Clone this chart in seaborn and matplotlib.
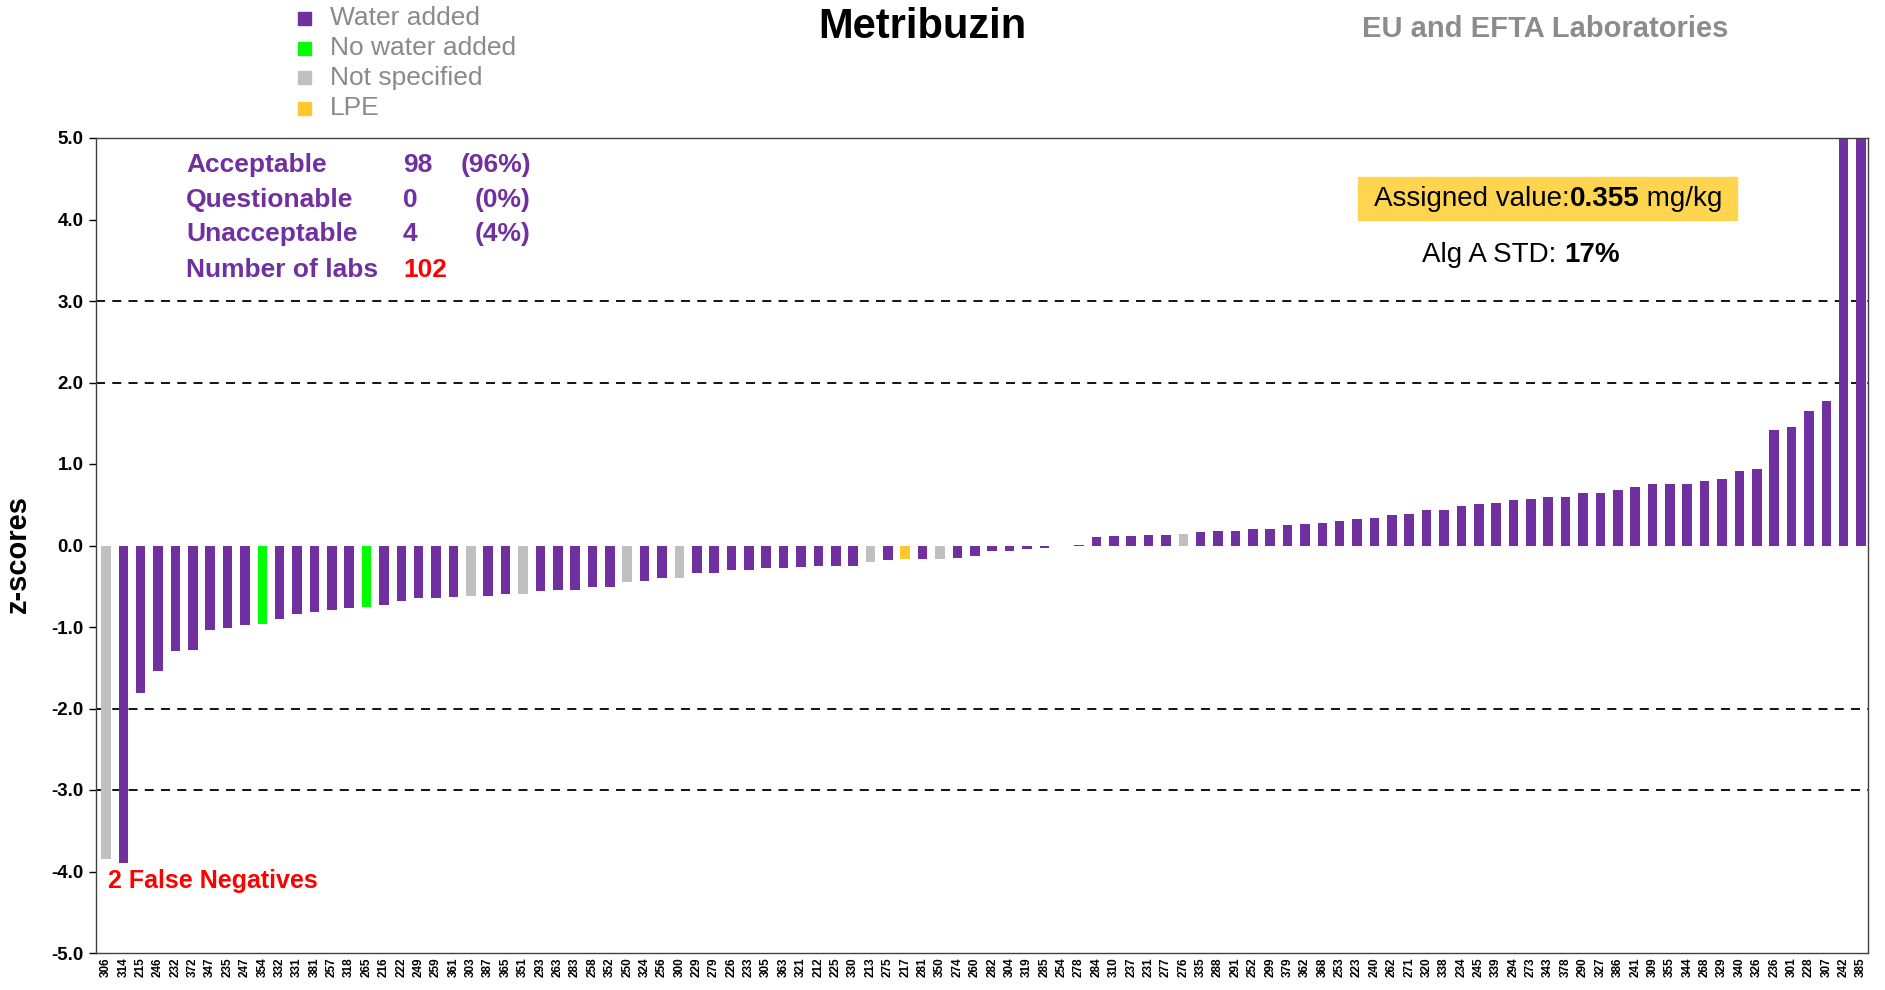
import numpy as np
import pandas as pd
import matplotlib
matplotlib.use("Agg")
import matplotlib.pyplot as plt
import seaborn as sns
from matplotlib.patches import Rectangle
from matplotlib.text import Annotation

# lab codes in plotted order
labs = ["306", "314", "215", "246", "232", "372", "347", "235", "247", "354",
        "332", "331", "381", "257", "318", "265", "216", "222", "249", "259",
        "361", "303", "387", "365", "351", "293", "263", "283", "258", "352",
        "250", "324", "256", "300", "229", "279", "226", "233", "305", "363",
        "321", "212", "225", "330", "213", "275", "217", "281", "350", "274",
        "260", "282", "304", "319", "285", "254", "278", "284", "310", "237",
        "231", "277", "276", "335", "288", "291", "252", "299", "379", "362",
        "368", "253", "223", "240", "262", "271", "320", "338", "234", "245",
        "339", "294", "273", "343", "378", "290", "327", "386", "241", "309",
        "355", "344", "268", "329", "340", "326", "236", "301", "228", "307",
        "242", "385"]

zscores = [-3.85, -3.89, -1.81, -1.54, -1.30, -1.28, -1.04, -1.01, -0.97, -0.96,
           -0.90, -0.84, -0.82, -0.79, -0.77, -0.76, -0.73, -0.68, -0.65, -0.65,
           -0.63, -0.62, -0.62, -0.60, -0.60, -0.56, -0.54, -0.54, -0.51, -0.51,
           -0.45, -0.44, -0.40, -0.40, -0.34, -0.34, -0.30, -0.30, -0.28, -0.28,
           -0.26, -0.25, -0.25, -0.25, -0.20, -0.18, -0.16, -0.16, -0.16, -0.15,
           -0.13, -0.07, -0.07, -0.04, -0.03, -0.01, 0.01, 0.10, 0.115, 0.115,
           0.13, 0.13, 0.14, 0.16, 0.18, 0.18, 0.20, 0.20, 0.25, 0.26,
           0.28, 0.30, 0.33, 0.34, 0.37, 0.39, 0.44, 0.44, 0.48, 0.51,
           0.52, 0.56, 0.57, 0.59, 0.60, 0.65, 0.65, 0.68, 0.72, 0.76,
           0.76, 0.76, 0.79, 0.81, 0.92, 0.94, 1.42, 1.45, 1.65, 1.77,
           5.6, 7.0]

grey_idx = [0, 21, 24, 30, 33, 44, 48, 62]
green_idx = [9, 15]
lpe_idx = [46]

groups = ["Water added"] * len(labs)
for i in grey_idx:
    groups[i] = "Not specified"
for i in green_idx:
    groups[i] = "No water added"
for i in lpe_idx:
    groups[i] = "LPE"

legend_names = ["Water added", "No water added", "Not specified", "LPE"]
pal = {"Water added": "#7030a0", "No water added": "#00ff00",
       "Not specified": "#c0c0c0", "LPE": "#ffc82e"}

stats_names = ["Acceptable", "Questionable", "Unacceptable", "Number of labs"]
stats_counts = ["98", "0", "4", "102"]
stats_pct = ["(96%)", "(0%)", "(4%)", ""]

df = pd.DataFrame({"lab": labs, "z": zscores, "group": groups})

W, H = 1885, 990


def fx(x):
    return x / W


def fy(y):
    return 1 - y / H


def add_after(fig, prev, text, **kw):
    # put a text piece right after the previous one, same baseline
    a = Annotation(text, xy=(1, 0), xycoords=prev, ha="left", va="bottom",
                   annotation_clip=False, **kw)
    fig.add_artist(a)
    return a


plt.rcParams['font.family'] = ['Liberation Sans', 'DejaVu Sans']

fig, ax = plt.subplots(figsize=(18.85, 9.9), dpi=100)
fig.subplots_adjust(left=fx(96), right=fx(1868), top=fy(138), bottom=fy(953))

sns.barplot(data=df, x="lab", y="z", hue="group", order=labs, palette=pal,
            dodge=False, width=0.55, saturation=1, legend=False, ax=ax)

for y in [-3, -2, 2, 3]:
    ax.axhline(y, color="black", ls=(0, (5, 4)), lw=1.3, zorder=0)

ax.set_ylim(-5, 5)
ax.set_xlim(-0.57, 101.4)
ax.set_yticks(np.arange(-5, 5.1, 1))
ax.set_yticklabels([f"{v:.1f}" for v in np.arange(-5, 5.1, 1)],
                   fontsize=13.5, fontweight="bold")
ax.tick_params(axis="y", length=5, width=1, pad=4)
ax.tick_params(axis="x", labelrotation=90, labelsize=8.5, length=0, pad=3)
for lbl in ax.get_xticklabels():
    lbl.set_fontweight("bold")
ax.set_xlabel("")
ax.set_ylabel("z-scores", fontsize=21, fontweight="bold")
ax.yaxis.set_label_coords(-0.036, 0.49)
for s in ax.spines.values():
    s.set_color("#404040")
    s.set_linewidth(1)

# header texts
fig.text(fx(922), fy(27), "Metribuzin", fontsize=30, fontweight="bold",
         ha="center", va="center")
fig.text(fx(1545), fy(29), "EU and EFTA Laboratories", fontsize=21,
         fontweight="bold", color="#8c8c8c", ha="center", va="center")

# legend
for k, name in enumerate(legend_names):
    yc = 18 + 30 * k
    fig.add_artist(Rectangle((fx(298), fy(yc + 6.5)), 13 / W, 13 / H,
                             transform=fig.transFigure, color=pal[name]))
    fig.text(fx(330), fy(yc), name, fontsize=19, color="#8a8a8a",
             ha="left", va="center")

# stats block
rows_y = [165, 200, 234, 270]
for k in range(4):
    fig.text(fx(186), fy(rows_y[k]), stats_names[k], fontsize=19,
             fontweight="bold", color="#7030a0", ha="left", va="center")
    fig.text(fx(403), fy(rows_y[k]), stats_counts[k], fontsize=19,
             fontweight="bold", color="red" if k == 3 else "#7030a0",
             ha="left", va="center")
    if stats_pct[k]:
        fig.text(fx(531), fy(rows_y[k]), stats_pct[k], fontsize=19,
                 fontweight="bold", color="#7030a0", ha="right", va="center")

fig.text(fx(108), fy(881), "2 False Negatives", fontsize=18, fontweight="bold",
         color="red", ha="left", va="center")

# assigned value box
fig.add_artist(Rectangle((fx(1358), fy(220)), (1737 - 1358) / W, 43 / H,
                         transform=fig.transFigure, color="#ffd54f", zorder=1))
t1 = fig.text(fx(1374), fy(199), "Assigned value:", fontsize=20,
              ha="left", va="center", zorder=3)
t2 = add_after(fig, t1, "0.355", fontsize=20, fontweight="bold", zorder=3)
add_after(fig, t2, " mg/kg", fontsize=20, zorder=3)

t3 = fig.text(fx(1422), fy(255), "Alg A STD: ", fontsize=20,
              ha="left", va="center")
add_after(fig, t3, "17%", fontsize=20, fontweight="bold")

fig.savefig("out.png", dpi=100)
